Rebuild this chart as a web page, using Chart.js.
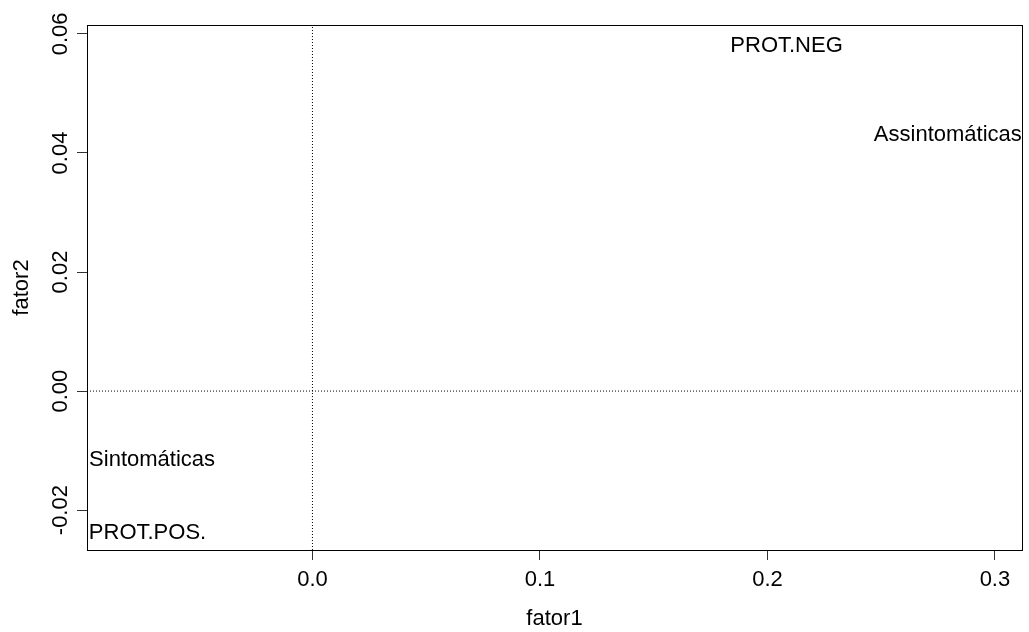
<!DOCTYPE html>
<html>
<head>
<meta charset="utf-8">
<script src="https://cdn.jsdelivr.net/npm/chart.js@4/dist/chart.umd.min.js"></script>
<style>
  html, body { margin: 0; padding: 0; background: #fff; }
  #wrap { width: 1029px; height: 632px; }
</style>
</head>
<body>
<div id="wrap"><canvas id="plot" width="1029" height="632"></canvas></div>
<script>
// point labels and their coordinates (fator1, fator2)
const labels = ['PROT.NEG', 'Assintomáticas', 'Sintomáticas', 'PROT.POS.'];
const fator1 = [0.2084, 0.2793, -0.0705, -0.0725];
const fator2 = [0.0579, 0.0430, -0.0116, -0.0239];

const xTicks = [0.0, 0.1, 0.2, 0.3];
const yTicks = [-0.02, 0.00, 0.02, 0.04, 0.06];
const xRange = [-0.0991, 0.3119];
const yRange = [-0.0267, 0.0615];

const FONT = '"Liberation Sans", Arial, Helvetica, sans-serif';

// R-like decorations: box, tick labels, axis titles, text at points
const rStylePlugin = {
  id: 'rStyle',
  afterDraw(chart) {
    const ctx = chart.ctx;
    const area = chart.chartArea;
    const xs = chart.scales.x;
    const ys = chart.scales.y;

    ctx.save();
    ctx.strokeStyle = '#000';
    ctx.lineWidth = 1;
    ctx.strokeRect(area.left + 0.5, area.top + 0.5, area.right - area.left, area.bottom - area.top);

    ctx.fillStyle = '#000';
    ctx.font = '22px ' + FONT;
    ctx.textAlign = 'center';
    ctx.textBaseline = 'middle';

    xTicks.forEach(v => {
      ctx.fillText(v.toFixed(1), xs.getPixelForValue(v), 580);
    });
    ctx.fillText('fator1', (area.left + area.right) / 2, 619);

    yTicks.forEach(v => {
      ctx.save();
      ctx.translate(61, ys.getPixelForValue(v));
      ctx.rotate(-Math.PI / 2);
      ctx.fillText(v.toFixed(2), 0, 0);
      ctx.restore();
    });
    ctx.save();
    ctx.translate(22, (area.top + area.bottom) / 2);
    ctx.rotate(-Math.PI / 2);
    ctx.fillText('fator2', 0, 0);
    ctx.restore();

    ctx.beginPath();
    ctx.rect(area.left, area.top, area.right - area.left, area.bottom - area.top);
    ctx.clip();
    const meta = chart.getDatasetMeta(2);
    meta.data.forEach((pt, i) => {
      ctx.fillText(labels[i], pt.x, pt.y);
    });
    ctx.restore();
  }
};

new Chart(document.getElementById('plot').getContext('2d'), {
  type: 'scatter',
  data: {
    datasets: [
      {
        label: 'v0',
        type: 'line',
        data: [{ x: 0, y: yRange[0] }, { x: 0, y: yRange[1] }],
        borderColor: '#000',
        borderWidth: 1,
        borderDash: [1, 2],
        pointRadius: 0
      },
      {
        label: 'h0',
        type: 'line',
        data: [{ x: xRange[0], y: 0 }, { x: xRange[1], y: 0 }],
        borderColor: '#000',
        borderWidth: 1,
        borderDash: [1, 2],
        pointRadius: 0
      },
      {
        label: 'pontos',
        data: labels.map((l, i) => ({ x: fator1[i], y: fator2[i] })),
        pointRadius: 0
      }
    ]
  },
  options: {
    responsive: false,
    animation: false,
    events: [],
    layout: { padding: { left: 0, right: 7, top: 25, bottom: 0 } },
    plugins: {
      legend: { display: false },
      tooltip: { enabled: false }
    },
    scales: {
      x: {
        type: 'linear',
        min: xRange[0],
        max: xRange[1],
        afterBuildTicks: s => { s.ticks = xTicks.map(v => ({ value: v })); },
        afterFit: s => { s.height = 82; },
        ticks: { display: false },
        grid: { drawOnChartArea: false, drawTicks: true, tickLength: 10, color: '#333' },
        border: { display: true, color: '#000' }
      },
      y: {
        type: 'linear',
        min: yRange[0],
        max: yRange[1],
        afterBuildTicks: s => { s.ticks = yTicks.map(v => ({ value: v })); },
        afterFit: s => { s.width = 87; },
        ticks: { display: false },
        grid: { drawOnChartArea: false, drawTicks: true, tickLength: 10, color: '#333' },
        border: { display: true, color: '#000' }
      }
    }
  },
  plugins: [rStylePlugin]
});
</script>
</body>
</html>
